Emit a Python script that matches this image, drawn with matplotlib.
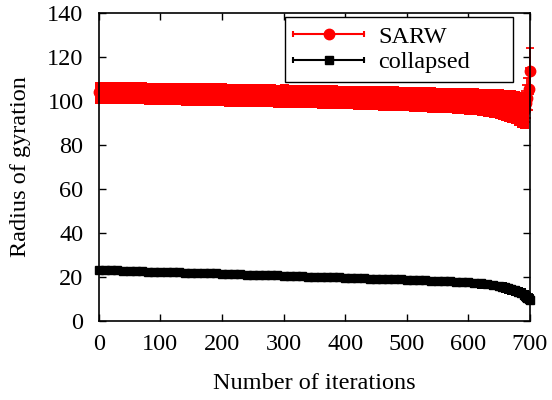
import matplotlib
matplotlib.use("Agg")
import matplotlib.pyplot as plt
from matplotlib.lines import Line2D
from matplotlib.legend_handler import HandlerBase

plt.rcParams['font.family'] = ['Liberation Serif', 'DejaVu Serif']

iterations = [0, 10, 20, 30, 40, 50, 60, 70, 80, 90,
              100, 110, 120, 130, 140, 150, 160, 170, 180, 190,
              200, 210, 220, 230, 240, 250, 260, 270, 280, 290,
              300, 310, 320, 330, 340, 350, 360, 370, 380, 390,
              400, 410, 420, 430, 440, 450, 460, 470, 480, 490,
              500, 510, 520, 530, 540, 550, 560, 570, 580, 590,
              600, 610, 620, 630, 640, 650, 655, 660, 665, 670,
              675, 680, 685, 690, 692, 694, 696, 698, 700]

sarw_rg = [104.0, 104.0, 103.9, 103.9, 103.8, 103.8, 103.7, 103.7, 103.6, 103.6,
           103.5, 103.5, 103.4, 103.4, 103.3, 103.3, 103.2, 103.2, 103.1, 103.1,
           103.0, 102.9, 102.9, 102.8, 102.8, 102.7, 102.7, 102.6, 102.6, 102.5,
           102.5, 102.4, 102.3, 102.3, 102.2, 102.2, 102.1, 102.0, 102.0, 101.9,
           101.8, 101.8, 101.7, 101.6, 101.6, 101.5, 101.4, 101.3, 101.3, 101.2,
           101.1, 101.0, 100.9, 100.8, 100.7, 100.6, 100.5, 100.4, 100.2, 100.1,
           100.0, 99.8, 99.6, 99.4, 99.1, 98.8, 98.6, 98.3, 98.0, 97.6,
           97.2, 96.7, 96.2, 95.6, 96.5, 99.0, 101.5, 105.5, 113.5]

sarw_err = [4.8, 4.8, 4.8, 4.8, 4.8, 4.8, 4.8, 4.8, 4.8, 4.8,
            4.9, 4.9, 4.9, 4.9, 4.9, 4.9, 4.9, 4.9, 4.9, 4.9,
            5.0, 5.0, 5.0, 5.0, 5.0, 5.0, 5.0, 5.0, 5.0, 5.0,
            5.1, 5.1, 5.1, 5.1, 5.1, 5.1, 5.1, 5.1, 5.1, 5.1,
            5.2, 5.2, 5.2, 5.2, 5.2, 5.3, 5.3, 5.3, 5.3, 5.3,
            5.4, 5.4, 5.4, 5.5, 5.5, 5.5, 5.6, 5.6, 5.7, 5.7,
            5.8, 5.9, 6.0, 6.1, 6.3, 6.5, 6.6, 6.8, 7.0, 7.2,
            7.4, 7.6, 7.8, 8.0, 8.0, 8.5, 9.0, 9.5, 10.5]

collapsed_rg = [23.2, 23.1, 23.0, 23.0, 22.9, 22.8, 22.7, 22.6, 22.5, 22.5,
                22.4, 22.3, 22.2, 22.1, 22.0, 21.9, 21.8, 21.8, 21.7, 21.6,
                21.5, 21.4, 21.3, 21.2, 21.1, 21.0, 20.9, 20.9, 20.8, 20.7,
                20.6, 20.5, 20.4, 20.3, 20.2, 20.1, 20.0, 20.0, 19.9, 19.8,
                19.7, 19.6, 19.5, 19.4, 19.3, 19.2, 19.1, 19.0, 18.9, 18.9,
                18.8, 18.7, 18.6, 18.5, 18.4, 18.3, 18.2, 18.0, 17.9, 17.8,
                17.6, 17.4, 17.1, 16.8, 16.4, 15.9, 15.6, 15.3, 14.9, 14.5,
                14.0, 13.4, 12.8, 12.0, 11.6, 11.1, 10.6, 10.1, 9.6]

collapsed_err = [1.2, 1.2, 1.2, 1.2, 1.2, 1.2, 1.2, 1.2, 1.2, 1.2,
                 1.2, 1.2, 1.2, 1.3, 1.3, 1.3, 1.3, 1.3, 1.3, 1.3,
                 1.3, 1.3, 1.3, 1.3, 1.4, 1.4, 1.4, 1.4, 1.4, 1.4,
                 1.4, 1.4, 1.4, 1.4, 1.5, 1.5, 1.5, 1.5, 1.5, 1.5,
                 1.5, 1.5, 1.6, 1.6, 1.6, 1.6, 1.6, 1.6, 1.6, 1.7,
                 1.7, 1.7, 1.7, 1.7, 1.7, 1.8, 1.8, 1.8, 1.8, 1.8,
                 1.9, 1.9, 1.9, 1.9, 2.0, 2.0, 2.0, 2.0, 2.0, 2.0,
                 2.0, 2.0, 2.0, 2.0, 2.0, 2.0, 2.0, 2.0, 2.0]

x_ticks = [0, 100, 200, 300, 400, 500, 600, 700]
y_ticks = [0, 20, 40, 60, 80, 100, 120, 140]
series_labels = ['SARW', 'collapsed']

FS = 17.5
RED = '#ff0000'


class HandlerHErr(HandlerBase):
    def create_artists(self, legend, orig_handle, xdescent, ydescent,
                       width, height, fontsize, trans):
        c = orig_handle.get_color()
        y = height / 2 - ydescent
        x0 = -xdescent
        x1 = x0 + width
        line = Line2D([x0, x1], [y, y], color=c, lw=1.5)
        caps = Line2D([x0, x1], [y, y], color=c, ls='none', marker='|',
                      markersize=5, markeredgewidth=1.5)
        mk = Line2D([(x0 + x1) / 2], [y], color=c, ls='none',
                    marker=orig_handle.get_marker(),
                    markersize=orig_handle.get_markersize())
        for a in (line, caps, mk):
            a.set_transform(trans)
        return [line, caps, mk]


fig = plt.figure(figsize=(5.52, 4.0), dpi=100)
ax = fig.add_axes([0.179, 0.1975, 0.781, 0.77])

n_bulk = 74  # dense region drawn as a solid band of bars

series = [
    (sarw_rg, sarw_err, RED, 'o', 7.5),
    (collapsed_rg, collapsed_err, 'black', 's', 6),
]
handles = []
for (vals, errs, col, mk, ms), lab in zip(series, series_labels):
    ax.errorbar(iterations[:n_bulk], vals[:n_bulk], yerr=errs[:n_bulk], fmt='none',
                ecolor=col, elinewidth=5.2, capsize=0, clip_on=False, zorder=2,
                antialiased=False)
    ax.errorbar(iterations[n_bulk:], vals[n_bulk:], yerr=errs[n_bulk:], fmt='none',
                ecolor=col, elinewidth=1.3, capsize=3, capthick=1.3,
                clip_on=False, zorder=2)
    ax.plot(iterations, vals, color=col, lw=1.5, marker=mk, markersize=ms,
            clip_on=False, zorder=3)
    handles.append(Line2D([], [], color=col, marker=mk, markersize=ms, label=lab))

ax.set_xlim(0, 700)
ax.set_ylim(0, 140)
ax.set_xticks(x_ticks)
ax.set_yticks(y_ticks)
ax.tick_params(axis='y', direction='in', right=True, length=5, width=1,
               labelsize=FS, pad=11)
ax.tick_params(axis='x', direction='in', top=True, length=5, width=1,
               labelsize=FS, pad=9)
for s in ax.spines.values():
    s.set_linewidth(1.2)
    s.set_zorder(4)
ax.set_xlabel('Number of iterations', fontsize=FS)
ax.set_ylabel('Radius of gyration', fontsize=FS)
ax.xaxis.set_label_coords(0.5, -0.17)
ax.yaxis.set_label_coords(-0.158, 0.5)

leg = ax.legend(handles=handles, loc='upper left', mode='expand',
                bbox_to_anchor=(0.4316, 0.0, 0.529, 0.987),
                borderaxespad=0.0, fontsize=FS, frameon=True, fancybox=False,
                edgecolor='black', framealpha=1, handlelength=2.9,
                handletextpad=0.6, borderpad=0.35, labelspacing=0.15,
                handler_map={h: HandlerHErr() for h in handles})
leg.get_frame().set_linewidth(1.0)
leg.set_zorder(5)

fig.savefig('out.png', dpi=100)
